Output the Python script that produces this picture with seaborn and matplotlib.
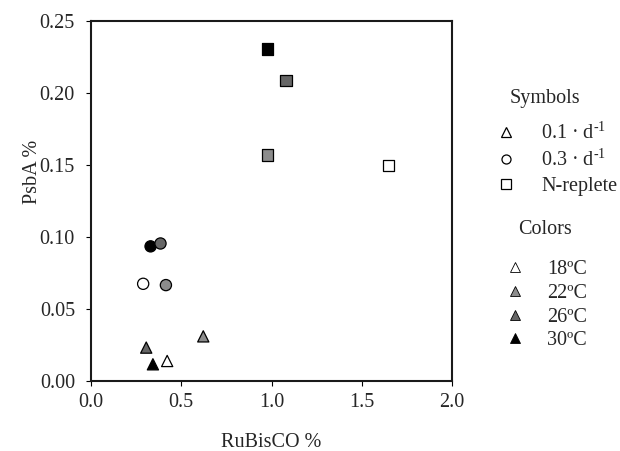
import matplotlib
matplotlib.use("Agg")
import matplotlib.pyplot as plt
from matplotlib.lines import Line2D
import seaborn as sns
import pandas as pd

# Cellular protein fractions per growth condition
growth = ["0.1", "0.1", "0.1", "0.1",
          "0.3", "0.3", "0.3", "0.3",
          "N", "N", "N", "N"]
temperature = ["30", "26", "22", "18",
               "30", "26", "22", "18",
               "30", "26", "22", "18"]
rubisco = [0.343, 0.306, 0.622, 0.422,
           0.330, 0.385, 0.415, 0.289,
           0.980, 1.080, 0.980, 1.650]
psba = [0.0116, 0.0232, 0.0310, 0.0139,
        0.0935, 0.0955, 0.0666, 0.0675,
        0.2305, 0.2085, 0.1570, 0.1495]

growth_labels = [r"0.1 · d$^{\text{-1}}$", r"0.3 · d$^{\text{-1}}$", "N-replete"]
temp_labels = ["18ºC", "22ºC", "26ºC", "30ºC"]
x_ticks = [0.0, 0.5, 1.0, 1.5, 2.0]
y_ticks = [0.00, 0.05, 0.10, 0.15, 0.20, 0.25]

df = pd.DataFrame({"growth": growth, "temperature": temperature,
                   "RuBisCO": rubisco, "PsbA": psba})

grey_scale = {"18": "#ffffff", "22": "#8c8c8c", "26": "#666666", "30": "#000000"}
shapes = {"0.1": "^", "0.3": "o", "N": "s"}

sns.set_theme(style="ticks")
plt.rcParams["font.family"] = ["Liberation Serif", "DejaVu Serif"]
plt.rcParams["mathtext.fontset"] = "custom"
plt.rcParams["mathtext.rm"] = "Liberation Serif"
plt.rcParams["mathtext.it"] = "Liberation Serif:italic"

FS = 14.5
fig = plt.figure(figsize=(6.2, 4.51), dpi=100)
ax = fig.add_axes([91 / 620, 70 / 451, 361 / 620, 360 / 451])

sns.scatterplot(data=df, x="RuBisCO", y="PsbA", hue="temperature", style="growth",
                palette=grey_scale, markers=shapes, s=65, edgecolor="black",
                linewidth=0.9, legend=False, ax=ax, zorder=3)

ax.set_xlim(0, 2.0)
ax.set_ylim(0, 0.25)
ax.set_xticks(x_ticks)
ax.set_yticks(y_ticks)
ax.set_xticklabels([f"{v:.1f}" for v in x_ticks], fontsize=FS)
ax.set_yticklabels([f"{v:.2f}" for v in y_ticks], fontsize=FS)
ax.tick_params(direction="out", length=3.6, width=0.8, color="black")
ax.tick_params(axis="x", pad=5)
ax.tick_params(axis="y", pad=8)
for side in ["left", "right", "top", "bottom"]:
    ax.spines[side].set_visible(True)
    ax.spines[side].set_linewidth(1.5)
    ax.spines[side].set_color("#1a1a1a")
ax.set_xlabel("RuBisCO %", fontsize=FS, labelpad=15)
ax.set_ylabel("PsbA %", fontsize=FS)
ax.yaxis.set_label_coords(-0.137, 0.58)

# Symbol key (open markers) and colour key (filled triangles)
fig.text(545 / 620, 1 - 98 / 451, "Symbols", fontsize=FS, ha="center", va="center")
fig.text(545 / 620, 1 - 229 / 451, "Colors", fontsize=FS, ha="center", va="center")

sym_handles = [Line2D([], [], linestyle="none", marker=m, markersize=6.5,
                      markerfacecolor="white", markeredgecolor="black", markeredgewidth=0.9)
               for m in ["^", "o", "s"]]
fig.legend(sym_handles, growth_labels, loc="upper left",
           bbox_to_anchor=(484 / 620, 1 - 113 / 451), frameon=False,
           fontsize=FS, handletextpad=1.15, labelspacing=0.28,
           handlelength=1.2, borderpad=0)
col_handles = [Line2D([], [], linestyle="none", marker="^", markersize=7,
                      markerfacecolor=grey_scale[k], markeredgecolor="black",
                      markeredgewidth=0.6)
               for k in ["18", "22", "26", "30"]]
fig.legend(col_handles, temp_labels, loc="upper left",
           bbox_to_anchor=(493 / 620, 1 - 250 / 451), frameon=False,
           fontsize=FS, handletextpad=1.0, labelspacing=0.23,
           handlelength=1.2, borderpad=0)

fig.savefig("out.png", dpi=100, facecolor="white")
